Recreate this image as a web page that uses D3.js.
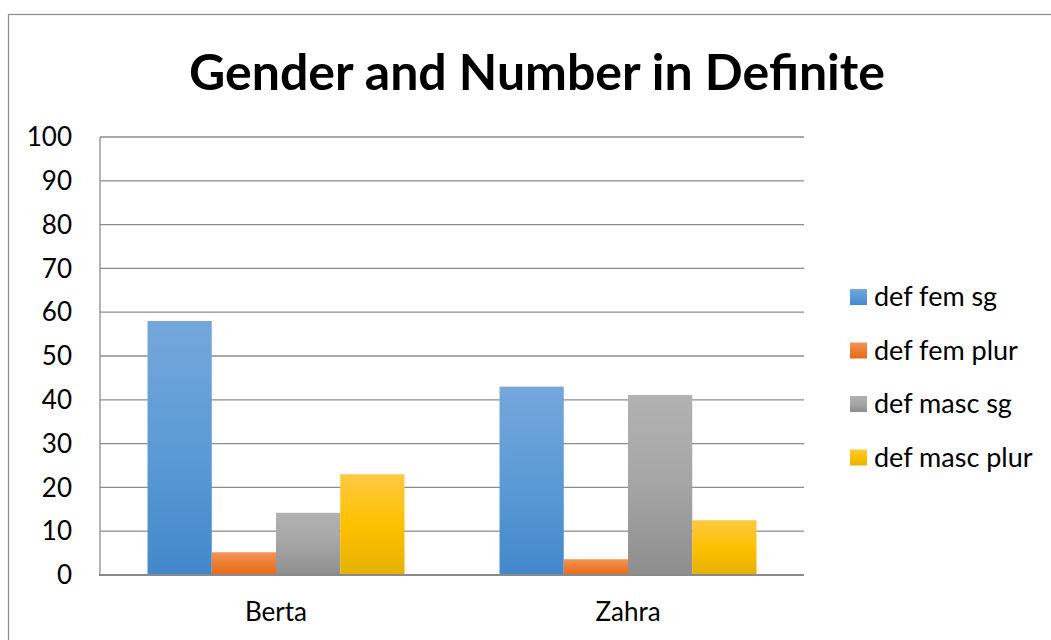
<!DOCTYPE html>
<html>
<head>
<meta charset="utf-8">
<script src="https://cdn.jsdelivr.net/npm/d3@7"></script>
<style>
  body { margin: 0; background: #fff; }
  text { font-family: Lato, "Open Sans", sans-serif; fill: #000; }
</style>
</head>
<body>
<div id="chart"></div>
<script>
// chart data
const categories = ['Berta', 'Zahra'];
const seriesNames = ['def fem sg', 'def fem plur', 'def masc sg', 'def masc plur'];
const values = {
    'def fem sg':    [58, 43],
    'def fem plur':  [5.2, 3.6],
    'def masc sg':   [14.2, 41.1],
    'def masc plur': [23, 12.5]
};
const yTicks = [0, 10, 20, 30, 40, 50, 60, 70, 80, 90, 100];

// gradient stops per series: top, middle, bottom
const gradients = [
    ['#75a7dc', '#5b9bd5', '#4388cb'],
    ['#f49559', '#ed7d31', '#e46c1a'],
    ['#b2b2b2', '#a5a5a5', '#8e8e8e'],
    ['#ffc942', '#ffc000', '#e4b100']
];

const width = 1051;
const height = 640;
const plot = { left: 100, right: 804, top: 137, bottom: 575 };

const svg = d3.select('#chart')
    .append('svg')
    .attr('width', width)
    .attr('height', height);

// outer chart frame
svg.append('rect')
    .attr('x', 8.5).attr('y', 14.5)
    .attr('width', width + 20).attr('height', height + 20)
    .attr('fill', 'none')
    .attr('stroke', '#8c8c8c')
    .attr('stroke-width', 1.2);

const defs = svg.append('defs');
gradients.forEach((g, i) => {
    const lg = defs.append('linearGradient')
        .attr('id', 'grad' + i)
        .attr('x1', 0).attr('y1', 0).attr('x2', 0).attr('y2', 1);
    lg.append('stop').attr('offset', '0%').attr('stop-color', g[0]);
    lg.append('stop').attr('offset', '50%').attr('stop-color', g[1]);
    lg.append('stop').attr('offset', '100%').attr('stop-color', g[2]);
});

const x0 = d3.scaleBand()
    .domain(categories)
    .range([plot.left, plot.right]);

const x1 = d3.scaleBand()
    .domain(seriesNames)
    .range([0, x0.bandwidth()])
    .paddingInner(0)
    .paddingOuter(0.74);

const y = d3.scaleLinear()
    .domain([0, 100])
    .range([plot.bottom, plot.top]);

// gridlines
svg.append('g')
    .selectAll('line')
    .data(yTicks.filter(d => d > 0))
    .join('line')
    .attr('x1', plot.left).attr('x2', plot.right)
    .attr('y1', d => y(d)).attr('y2', d => y(d))
    .attr('stroke', '#8c8c8c')
    .attr('stroke-width', 1.3);

// left axis line
svg.append('line')
    .attr('x1', plot.left).attr('x2', plot.left)
    .attr('y1', plot.top).attr('y2', plot.bottom)
    .attr('stroke', '#8c8c8c')
    .attr('stroke-width', 1.3);

// y tick labels
svg.append('g')
    .selectAll('text')
    .data(yTicks)
    .join('text')
    .attr('x', 72)
    .attr('y', d => y(d))
    .attr('dy', '0.35em')
    .attr('text-anchor', 'end')
    .style('font-size', '26px')
    .text(d => d);

// bars
const groups = svg.append('g')
    .selectAll('g')
    .data(categories)
    .join('g')
    .attr('transform', d => `translate(${x0(d)},0)`);

groups.selectAll('rect')
    .data((c, ci) => seriesNames.map((s, si) => ({ s, si, v: values[s][ci] })))
    .join('rect')
    .attr('x', d => x1(d.s))
    .attr('width', x1.bandwidth())
    .attr('y', d => y(d.v))
    .attr('height', d => y(0) - y(d.v))
    .attr('fill', d => `url(#grad${d.si})`);

// baseline axis
svg.append('line')
    .attr('x1', plot.left - 1).attr('x2', plot.right)
    .attr('y1', plot.bottom).attr('y2', plot.bottom)
    .attr('stroke', '#8a8a8a')
    .attr('stroke-width', 2.2);

// category labels
svg.append('g')
    .selectAll('text')
    .data(categories)
    .join('text')
    .attr('x', d => x0(d) + x0.bandwidth() / 2)
    .attr('y', 612)
    .attr('dy', '0.35em')
    .attr('text-anchor', 'middle')
    .style('font-size', '26px')
    .text(d => d);

// title
svg.append('text')
    .attr('x', 537)
    .attr('y', 72)
    .attr('dy', '0.35em')
    .attr('text-anchor', 'middle')
    .style('font-size', '50px')
    .style('font-weight', 'bold')
    .text('Gender and Number in Definite');

// legend
const legend = svg.append('g')
    .selectAll('g')
    .data(seriesNames)
    .join('g')
    .attr('transform', (d, i) => `translate(850, ${297 + i * 53.5})`);

legend.append('rect')
    .attr('x', 0).attr('y', -8)
    .attr('width', 17).attr('height', 16)
    .attr('fill', (d, i) => `url(#grad${i})`);

legend.append('text')
    .attr('x', 24)
    .attr('y', 0)
    .attr('dy', '0.35em')
    .style('font-size', '27px')
    .text(d => d);
</script>
</body>
</html>
